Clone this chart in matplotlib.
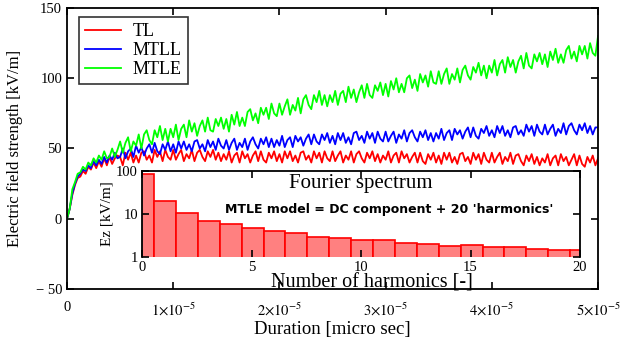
import matplotlib.pyplot as plt
import numpy as np

plt.rcParams['font.family'] = ['Liberation Serif', 'DejaVu Serif']
plt.rcParams['mathtext.fontset'] = 'stix'

# field strength [kV/m], one sample every 0.25 micro sec from 0 to 50
mtle = [0, 7, 21, 26, 32, 33, 37, 35, 40, 38, 43, 40, 45, 42, 48, 43, 44, 50, 44, 49,
        55, 47, 54, 58, 48, 55, 52, 60, 50, 60, 63, 56, 53, 63, 58, 66, 56, 64, 55, 64,
        58, 67, 56, 64, 67, 58, 70, 62, 68, 59, 66, 70, 62, 72, 63, 62, 71, 66, 72, 64,
        71, 62, 74, 67, 76, 66, 72, 66, 76, 78, 70, 75, 68, 79, 74, 79, 71, 82, 75, 73,
        82, 74, 80, 85, 74, 81, 77, 86, 75, 85, 88, 81, 78, 88, 83, 91, 81, 88, 80, 88,
        83, 91, 81, 89, 91, 83, 94, 86, 92, 83, 90, 95, 86, 96, 88, 86, 95, 91, 97, 88,
        96, 87, 98, 92, 100, 90, 96, 90, 100, 102, 93, 99, 91, 103, 97, 102, 94, 105, 97, 96,
        105, 96, 103, 107, 96, 103, 99, 107, 97, 106, 109, 102, 99, 108, 104, 111, 102, 109, 100, 109,
        104, 113, 102, 110, 113, 104, 115, 108, 113, 104, 112, 116, 107, 118, 109, 107, 117, 112, 118, 110,
        117, 108, 119, 113, 121, 111, 117, 111, 120, 123, 114, 119, 112, 123, 117, 123, 114, 125, 118, 116,
        130]

mtll = [0, 7, 18, 25, 30, 32, 35, 34, 38, 36, 41, 38, 42, 39, 44, 40, 45, 42, 47, 43,
        44, 50, 43, 48, 50, 44, 52, 47, 51, 45, 50, 53, 47, 54, 48, 46, 53, 49, 55, 48,
        53, 47, 55, 50, 55, 49, 53, 48, 55, 56, 50, 53, 48, 56, 51, 55, 49, 57, 52, 50,
        56, 49, 54, 57, 49, 54, 51, 57, 49, 55, 58, 53, 50, 57, 53, 58, 51, 57, 51, 56,
        52, 59, 51, 56, 58, 51, 59, 55, 58, 52, 57, 60, 53, 60, 55, 53, 60, 56, 61, 54,
        59, 53, 61, 56, 61, 54, 58, 53, 61, 62, 56, 59, 54, 62, 57, 61, 54, 62, 57, 55,
        62, 55, 59, 62, 54, 60, 57, 63, 55, 61, 63, 58, 55, 62, 58, 63, 56, 61, 55, 61,
        57, 64, 56, 61, 63, 56, 64, 60, 63, 57, 62, 65, 58, 65, 59, 57, 64, 61, 66, 59,
        63, 58, 66, 61, 66, 59, 63, 58, 65, 66, 60, 63, 59, 67, 62, 66, 59, 67, 62, 60,
        67, 60, 64, 67, 59, 64, 61, 68, 60, 66, 68, 63, 60, 67, 63, 68, 61, 66, 60, 65,
        65]

tl = [0, 7, 17, 24, 29, 30, 34, 32, 37, 35, 40, 36, 41, 37, 43, 38, 44, 39, 43, 45,
      44, 38, 47, 42, 47, 40, 45, 40, 47, 48, 42, 45, 40, 49, 44, 48, 41, 49, 44, 42,
      49, 42, 46, 49, 41, 46, 43, 49, 41, 47, 49, 44, 41, 48, 44, 49, 42, 47, 41, 46,
      42, 48, 40, 45, 47, 40, 48, 43, 46, 40, 45, 48, 41, 48, 42, 40, 47, 43, 48, 41,
      46, 40, 48, 43, 48, 41, 45, 40, 47, 48, 42, 45, 40, 48, 43, 47, 40, 48, 43, 41,
      48, 41, 45, 48, 40, 45, 42, 48, 40, 46, 48, 43, 40, 47, 43, 48, 41, 46, 40, 45,
      42, 48, 40, 45, 47, 40, 48, 43, 46, 40, 44, 47, 40, 47, 41, 39, 46, 42, 47, 40,
      45, 39, 47, 42, 47, 40, 44, 39, 46, 47, 41, 44, 39, 47, 42, 46, 39, 47, 42, 40,
      47, 40, 44, 47, 39, 44, 41, 47, 39, 45, 46, 41, 38, 45, 41, 46, 39, 44, 38, 43,
      40, 46, 38, 43, 45, 38, 46, 41, 44, 38, 42, 46, 38, 45, 39, 37, 44, 40, 45, 38,
      43]

# Fourier spectrum of MTLE: DC component + 20 harmonics [kV/m]
harmonic = list(range(21))
spectrum = [85, 19.7, 10.4, 7.0, 5.8, 4.65, 3.96, 3.55, 2.96, 2.81, 2.48,
            2.48, 2.08, 2.0, 1.80, 1.90, 1.74, 1.72, 1.53, 1.46, 1.46]

xticks = [0, 1e-5, 2e-5, 3e-5, 4e-5, 5e-5]
xticklabels = ['0'] + [r'$%d{\times}10^{-5}$' % k for k in range(1, 6)]

fig = plt.figure(figsize=(6.27, 3.42), dpi=100)
ax = fig.add_axes([0.1069, 0.155, 0.8469, 0.8216])

ax.plot(np.linspace(0, 5e-5, len(tl)), tl, color='#ff0000', lw=1.3, label='TL')
ax.plot(np.linspace(0, 5e-5, len(mtll)), mtll, color='#0000ff', lw=1.3, label='MTLL')
ax.plot(np.linspace(0, 5e-5, len(mtle)), mtle, color='#00ff00', lw=1.3, label='MTLE')

ax.set_xlim(0, 5e-5)
ax.set_ylim(-50, 150)
ax.set_yticks([-50, 0, 50, 100, 150])
ax.set_yticklabels(['\u2212 50', '0', '50', '100', '150'])
ax.set_xticks(xticks)
ax.set_xticklabels(xticklabels)
ax.tick_params(direction='in', top=True, right=True, length=5, width=1.2, labelsize=10.5)
ax.tick_params(axis='x', pad=9)
for s in ax.spines.values():
    s.set_linewidth(1.3)

ax.set_ylabel('Electric field strength [kV/m]', fontsize=12)
ax.yaxis.set_label_coords(-0.083, 0.5)
ax.set_xlabel('Duration [micro sec]', fontsize=13.5, va='center')
ax.xaxis.set_label_coords(0.5, -0.145)

leg = ax.legend(loc='upper left', bbox_to_anchor=(0.0226, 0.968), borderaxespad=0,
                fontsize=13, fancybox=False, framealpha=1, edgecolor='#333333',
                handlelength=2.0, labelspacing=0.1, borderpad=0.35, handletextpad=0.6)
leg.get_frame().set_linewidth(1.2)

# inset with the spectrum
ins = fig.add_axes([0.2265, 0.2485, 0.6986, 0.2515])
ins.set_yscale('log')
ins.bar(np.array(harmonic) + 0.05, spectrum, width=1.0, color='#ff8080',
        edgecolor='#ff0000', linewidth=1.2)
ins.set_xlim(0, 20)
ins.set_ylim(1, 100)
ins.set_xticks([0, 5, 10, 15, 20])
ins.set_yticks([1, 10, 100])
ins.set_yticklabels(['1', '10', '100'])
ins.minorticks_off()
ins.tick_params(direction='in', top=True, right=True, length=5, width=1.2, labelsize=10.5, pad=3)
ins.spines['bottom'].set_visible(False)
for s in ['left', 'top', 'right']:
    ins.spines[s].set_linewidth(1.3)
ins.set_xlabel('Number of harmonics [-]', fontsize=14.5, va='center')
ins.xaxis.set_label_coords(0.525, -0.30)
ins.set_ylabel('Ez [kV/m]', fontsize=11, labelpad=2)
ins.text(0.5, 0.86, 'Fourier spectrum', transform=ins.transAxes, ha='center', va='center',
         fontsize=15)
ins.text(0.564, 0.55, "MTLE model = DC component + 20 'harmonics'", transform=ins.transAxes,
         ha='center', va='center', fontsize=9, fontweight='bold', family='DejaVu Sans')

fig.savefig('out.png', dpi=100)
